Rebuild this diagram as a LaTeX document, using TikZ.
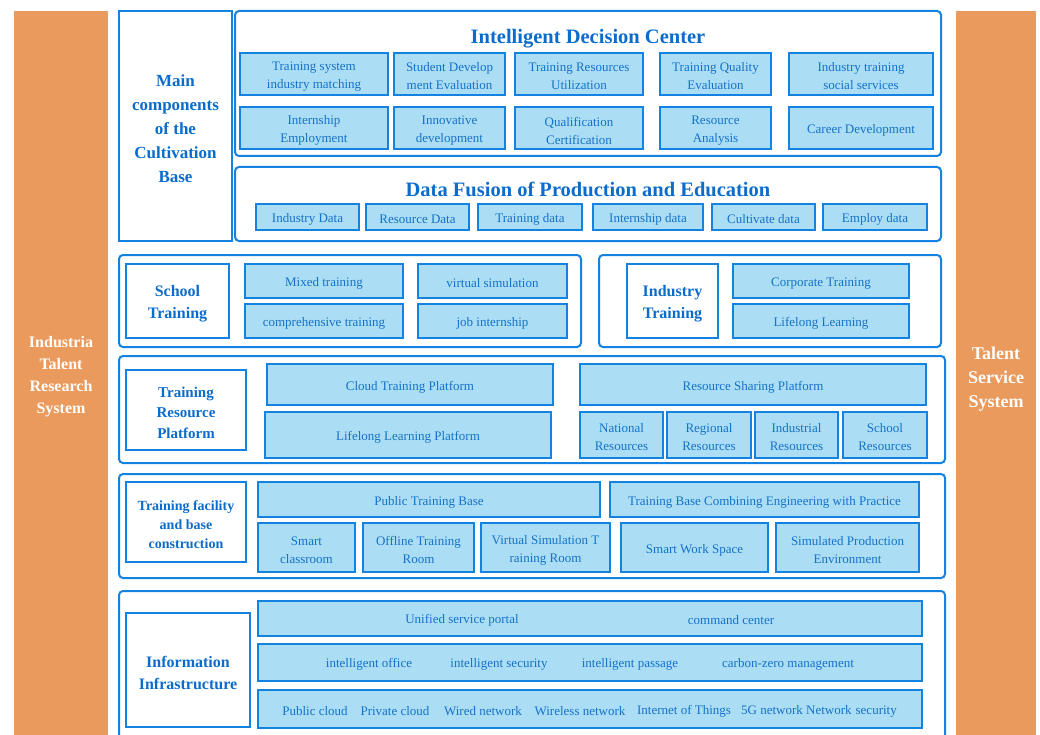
\documentclass[tikz,border=0pt]{standalone}
\usepackage{fontspec}
\setmainfont{Liberation Serif}

\definecolor{bblue}{HTML}{1482E0}
\definecolor{lblue}{HTML}{ABDDF5}
\definecolor{tblue}{HTML}{1472C8}
\definecolor{hblue}{HTML}{0C6CCB}
\definecolor{orng}{HTML}{EA9A5C}

\tikzset{
  outerbox/.style={draw=bblue, line width=2pt, rounded corners=4pt, inner sep=0pt},
  labelbox/.style={draw=bblue, line width=2.5pt, fill=white, inner sep=0pt,
                   text=hblue, align=center},
  cellbox/.style={draw=bblue, line width=2.5pt, fill=lblue, inner sep=0pt,
                  text=tblue, align=center, font=\fontsize{13}{18}\selectfont},
  bartext/.style={text=tblue, inner sep=0pt, font=\fontsize{13}{18}\selectfont},
  heading/.style={text=hblue, inner sep=0pt, font=\bfseries\fontsize{20.5}{24}\selectfont},
  sidebar/.style={fill=orng, inner sep=0pt, text=white, align=center},
}

% box from its corners: style, name, x1, y1, x2, y2, text
% the text is set as its own node, centred on the box and lowered a little
\newcommand\boxat[7]{%
  \node[#1, minimum width={(#5-#3)*1pt}, minimum height={(#6-#4)*1pt}]
    (#2) at ({(#3+#5)/2},{(#4+#6)/2}) {};
  \if\relax\detokenize{#7}\relax\else
    \node[#1, draw=none, fill=none] (#2-t) at ([yshift=-2.5pt]#2.center) {#7};
  \fi}

\begin{document}
\begin{tikzpicture}[x=1pt, y=-1pt]
\useasboundingbox (0,0) rectangle (1040,735);

% ---- side pillars ----
\boxat{sidebar}{leftbar}{14}{11}{108}{735}{}
\boxat{sidebar}{rightbar}{956}{11}{1036}{735}{}
\node[text=white, align=center, font=\bfseries\fontsize{16}{22}\selectfont]
  (lefttxt) at (61,377) {Industria\\Talent\\Research\\System};
\node[text=white, align=center, font=\bfseries\fontsize{18}{24}\selectfont]
  (righttxt) at (996,379) {Talent\\Service\\System};

% ---- main components ----
\boxat{labelbox, line width=2pt, font=\bfseries\fontsize{17}{24}\selectfont}{maincomp}{119}{11}{232}{241}
  {Main\\components\\of the\\Cultivation\\Base}

% Intelligent Decision Center
\boxat{outerbox}{idc}{235}{11}{941}{156}{}
\node[heading] (idctitle) at (588,39) {Intelligent Decision Center};
\boxat{cellbox}{d1}{240}{53}{388}{95}{Training system\\industry matching}
\boxat{cellbox}{d2}{394}{53}{505}{95}{Student Develop\\ment Evaluation}
\boxat{cellbox}{d3}{515}{53}{643}{95}{Training Resources\\Utilization}
\boxat{cellbox}{d4}{660}{53}{771}{95}{Training Quality\\Evaluation}
\boxat{cellbox}{d5}{789}{53}{933}{95}{Industry training\\social services}
\boxat{cellbox}{d6}{240}{107}{388}{149}{Internship\\Employment}
\boxat{cellbox}{d7}{394}{107}{505}{149}{Innovative\\development}
\boxat{cellbox}{d8}{515}{107}{643}{149}{Qualification\\Certification}
\boxat{cellbox}{d9}{660}{107}{771}{149}{Resource\\Analysis}
\boxat{cellbox}{d10}{789}{107}{933}{149}{Career Development}

% Data Fusion of Production and Education
\boxat{outerbox}{dfp}{235}{167}{941}{241}{}
\node[heading] (dfptitle) at (588,189) {Data Fusion of Production and Education};
\boxat{cellbox}{f1}{256}{204}{359}{230}{Industry Data}
\boxat{cellbox}{f2}{366}{204}{469}{230}{Resource Data}
\boxat{cellbox}{f3}{478}{204}{582}{230}{Training data}
\boxat{cellbox}{f4}{593}{204}{703}{230}{Internship data}
\boxat{cellbox}{f5}{712}{204}{815}{230}{Cultivate data}
\boxat{cellbox}{f6}{823}{204}{927}{230}{Employ data}

% ---- school training ----
\boxat{outerbox}{school}{119}{255}{581}{347}{}
\boxat{labelbox, font=\bfseries\fontsize{16}{22}\selectfont}{schoollbl}{126}{264}{229}{338}{School\\Training}
\boxat{cellbox}{s1}{245}{264}{403}{298}{Mixed training}
\boxat{cellbox}{s2}{418}{264}{567}{298}{virtual simulation}
\boxat{cellbox}{s3}{245}{304}{403}{338}{comprehensive training}
\boxat{cellbox}{s4}{418}{304}{567}{338}{job internship}

% ---- industry training ----
\boxat{outerbox}{industry}{599}{255}{941}{347}{}
\boxat{labelbox, font=\bfseries\fontsize{16}{22}\selectfont}{industrylbl}{627}{264}{718}{338}{Industry\\Training}
\boxat{cellbox}{i1}{733}{264}{909}{298}{Corporate Training}
\boxat{cellbox}{i2}{733}{304}{909}{338}{Lifelong Learning}

% ---- training resource platform ----
\boxat{outerbox}{resource}{119}{356}{945}{463}{}
\boxat{labelbox, font=\bfseries\fontsize{15}{20.5}\selectfont}{resourcelbl}{126}{370}{246}{450}{Training\\Resource\\Platform}
\boxat{cellbox}{r1}{267}{364}{553}{405}{Cloud Training Platform}
\boxat{cellbox}{r2}{265}{412}{551}{458}{Lifelong Learning Platform}
\boxat{cellbox}{r3}{580}{364}{926}{405}{Resource Sharing Platform}
\boxat{cellbox}{r4}{580}{412}{663}{458}{National\\Resources}
\boxat{cellbox}{r5}{667}{412}{751}{458}{Regional\\Resources}
\boxat{cellbox}{r6}{755}{412}{838}{458}{Industrial\\Resources}
\boxat{cellbox}{r7}{843}{412}{927}{458}{School\\Resources}

% ---- training facility and base construction ----
\boxat{outerbox}{facility}{119}{474}{945}{578}{}
\boxat{labelbox, font=\bfseries\fontsize{14}{19}\selectfont}{facilitylbl}{126}{482}{246}{562}{Training facility\\and base\\construction}
\boxat{cellbox}{t1}{258}{482}{600}{517}{Public Training Base}
\boxat{cellbox}{t2}{610}{482}{919}{517}{Training Base Combining Engineering with Practice}
\boxat{cellbox}{t3}{258}{523}{355}{572}{Smart\\classroom}
\boxat{cellbox}{t4}{363}{523}{474}{572}{Offline Training\\Room}
\boxat{cellbox}{t5}{481}{523}{610}{572}{Virtual Simulation T\\raining Room}
\boxat{cellbox}{t6}{621}{523}{768}{572}{Smart Work Space}
\boxat{cellbox}{t7}{776}{523}{919}{572}{Simulated Production\\Environment}

% ---- information infrastructure (frame runs off the bottom edge) ----
\coordinate (infoBL) at (119,736);
\coordinate (infoBR) at (945,736);
\draw[outerbox] (infoBL) -- (119,591) -- (945,591) -- (infoBR);
\boxat{labelbox, font=\bfseries\fontsize{16}{22}\selectfont}{infolbl}{126}{613}{250}{727}{Information\\Infrastructure}
\boxat{cellbox}{b1}{258}{601}{922}{636}{}
\boxat{cellbox}{b2}{258}{644}{922}{681}{}
\boxat{cellbox}{b3}{258}{690}{922}{728}{}

\node[bartext] (p1) at (462,620.5) {Unified service portal};
\node[bartext] (p2) at (731,620.5) {command center};

\node[bartext] (q1) at (369,664) {intelligent office};
\node[bartext] (q2) at (499,664) {intelligent security};
\node[bartext] (q3) at (630,664) {intelligent passage};
\node[bartext] (q4) at (788,664) {carbon-zero management};

\node[bartext] (n1) at (315,711) {Public cloud};
\node[bartext] (n2) at (395,711) {Private cloud};
\node[bartext] (n3) at (483,711) {Wired network};
\node[bartext] (n4) at (580,711) {Wireless network};
\node[bartext] (n5) at (684,711) {Internet of Things};
\node[bartext] (n6) at (819,711) {5G network Network\hspace{4pt}security};
\end{tikzpicture}
\end{document}
